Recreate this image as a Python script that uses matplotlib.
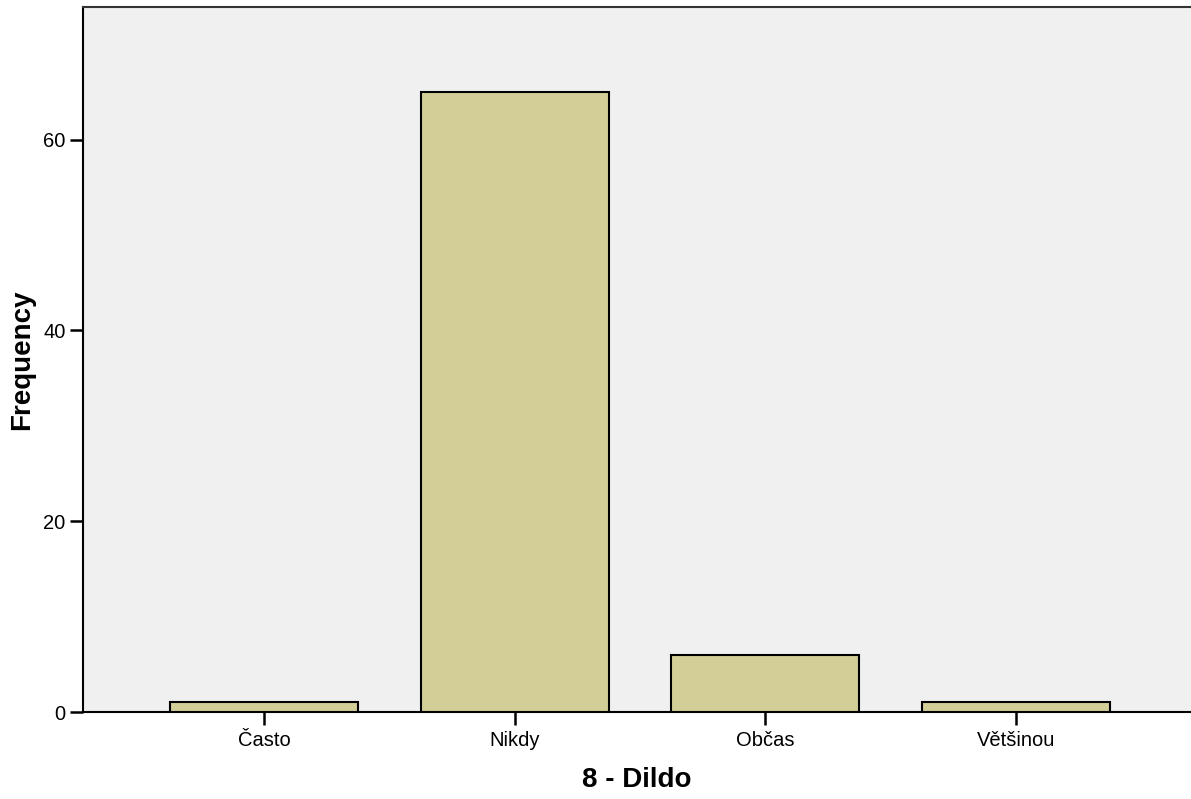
import numpy as np
import matplotlib.pyplot as plt

plt.rcParams['font.family'] = ['Liberation Sans', 'DejaVu Sans']

categories = ["Často", "Nikdy", "Občas", "Většinou"]
frequency = [1, 65, 6, 1]
y_ticks = [0, 20, 40, 60]

fig = plt.figure(figsize=(11.91, 7.99), dpi=100)
ax = fig.add_axes([83 / 1191, 87 / 799, 1 - 83 / 1191, 705 / 799])
ax.set_facecolor('#f0f0f0')

x = np.arange(len(categories))
ax.bar(x, frequency, width=0.752, color='#d3ce98', edgecolor='black', linewidth=1.5, zorder=3)

ax.set_xlim(-0.724, 3.7)
ax.set_ylim(0, 73.9)
ax.set_xticks(x)
ax.set_xticklabels(categories, fontsize=14.5)
ax.set_yticks(y_ticks)
ax.set_yticklabels([str(t) for t in y_ticks], fontsize=14.5)
ax.tick_params(axis='x', direction='out', length=9.5, width=1.8, pad=4.5)
ax.tick_params(axis='y', direction='out', length=9.5, width=1.8, pad=3)

ax.spines['right'].set_visible(False)
for s in ('left', 'top', 'bottom'):
    ax.spines[s].set_linewidth(1.5)
ax.spines['top'].set_color('#333333')

ax.set_xlabel('8 - Dildo', fontsize=20, fontweight='bold', labelpad=12)
ax.set_ylabel('Frequency', fontsize=20, fontweight='bold', labelpad=5.5)

fig.savefig('out.png', dpi=100)
